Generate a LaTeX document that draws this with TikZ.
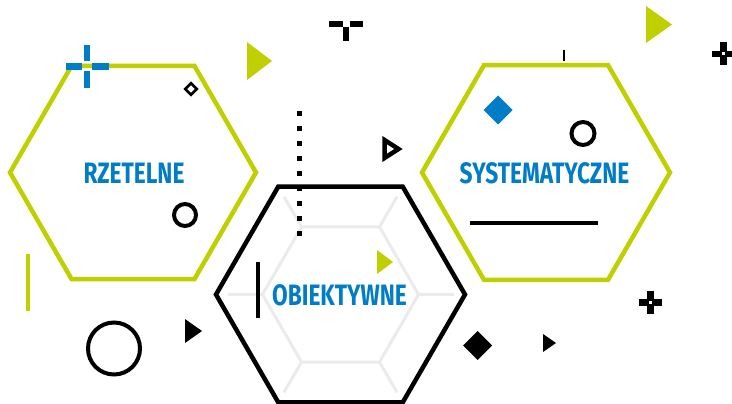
\documentclass[tikz,border=0pt]{standalone}
\usepackage{fontspec}
\newfontfamily\hexfont[FakeStretch=0.77]{Fira Sans}
\definecolor{hexgreen}{RGB}{192,207,0}
\definecolor{hexblue}{RGB}{0,125,198}
\definecolor{hexgray}{RGB}{235,235,235}

\begin{document}
\begin{tikzpicture}
    [x=1pt, y=-1pt,
    greenhex/.style={draw=hexgreen, line width=4.5pt},
    blackhex/.style={draw=black, line width=4.5pt},
    grid/.style={draw=hexgray, line width=3pt},
    hexlabel/.style={text=hexblue, inner sep=0pt,
        font=\hexfont\bfseries\fontsize{29.5}{30}\selectfont},
    bar/.style={draw, line width=4pt},
    ring/.style={draw, line width=4pt},
    arm/.style={draw, line width=6.5pt}
    ]
    \useasboundingbox (0,0) rectangle (732,404);

    % Siatka w srodkowym szesciokacie
    \coordinate (hexM) at (340.5,294.5);
    \draw[grid] (hexM) +(0:78) -- +(60:78) -- +(120:78) -- +(180:78) -- +(240:78) -- +(300:78) -- cycle;
    \foreach \a in {0,60,...,300}{
        \draw[grid] (hexM) ++(\a:78) -- ++(\a:35);
    }

    % Szesciokaty
    \coordinate (hexL) at (133,172.5);
    \coordinate (hexR) at (546,172.5);
    \draw[greenhex] (hexL) +(0:123) -- +(60:123) -- +(120:123) -- +(180:123) -- +(240:123) -- +(300:123) -- cycle;
    \draw[greenhex] (hexR) +(0:124) -- +(60:124) -- +(120:124) -- +(180:124) -- +(240:124) -- +(300:124) -- cycle;
    \draw[blackhex] (hexM) +(0:124.5) -- +(60:124.5) -- +(120:124.5) -- +(180:124.5) -- +(240:124.5) -- +(300:124.5) -- cycle;

    % Napisy
    \node[hexlabel] (rzetelne) at (134,173) {RZETELNE};
    \node[hexlabel] (systematyczne) at (544.5,173.5) {SYSTEMATYCZNE};
    \node[hexlabel] (obiektywne) at (339.5,295.5) {OBIEKTYWNE};

    % Kropkowana linia
    \draw[line width=5pt, dash pattern=on 5pt off 10pt] (299,111) -- (299,236);

    % Trojkaty
    \fill[hexgreen] (247,42) -- (272,61) -- (247,80) -- cycle;
    \fill[hexgreen] (646,6) -- (672,24.5) -- (646,43) -- cycle;
    \fill[hexgreen] (377,250) -- (393,262) -- (377,274) -- cycle;
    \fill (185,319) -- (202,331) -- (185,343) -- cycle;
    \fill (543,334) -- (556,343) -- (543,352) -- cycle;
    \draw[line width=4.5pt] (384.5,140) -- (398.5,149) -- (384.5,158) -- cycle;

    % Romby
    \fill[hexblue] (498,95.5) -- (512.5,110) -- (498,124.5) -- (483.5,110) -- cycle;
    \fill (477.5,331) -- (492,345.5) -- (477.5,360) -- (463,345.5) -- cycle;
    \draw[line width=2.6pt] (191,83.2) -- (196.8,89) -- (191,94.8) -- (185.2,89) -- cycle;

    % Kola
    \draw[ring] (185,215) circle (11);
    \draw[ring] (583,133.5) circle (11.5);
    \draw[ring] (114,348.5) circle (26);

    % Kreski
    \draw[bar, hexgreen] (28,254) -- (28,311);
    \draw[bar] (258,262) -- (258,318);
    \draw[bar, line width=4.5pt] (470,223) -- (598,223);
    \draw[line width=2pt] (564,50) -- (564,61);

    % Krzyzyki
    \foreach \a in {0,90,180,270}{
        \draw[arm, hexblue] (87,66.5) ++(\a:5) -- ++(\a:16.5);
        \draw[arm] (723.5,54) ++(\a:1.5) -- ++(\a:10);
        \draw[arm] (650.5,302.5) ++(\a:1.5) -- ++(\a:10);
    }
    \foreach \a in {0,90,180}{
        \draw[arm, line width=6pt] (346,24) ++(\a:3.5) -- ++(\a:13.5);
    }
\end{tikzpicture}
\end{document}
